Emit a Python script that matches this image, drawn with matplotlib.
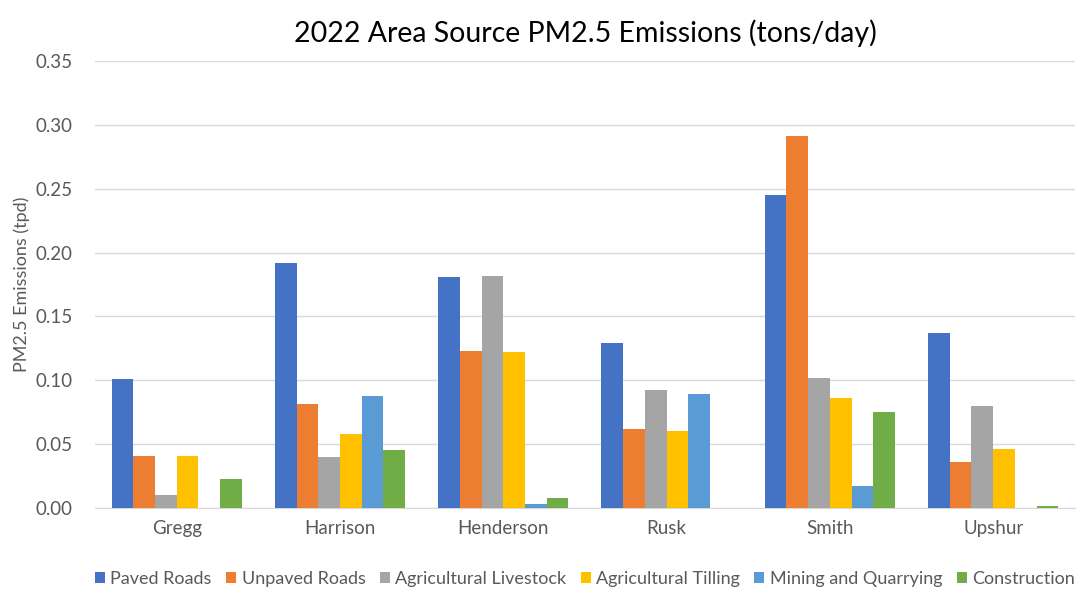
import numpy as np
from matplotlib import pyplot as plt

plt.rcParams['font.family'] = ['Lato', 'DejaVu Sans']

counties = ['Gregg', 'Harrison', 'Henderson', 'Rusk', 'Smith', 'Upshur']
paved_roads = [0.101, 0.192, 0.181, 0.129, 0.245, 0.137]
unpaved_roads = [0.041, 0.081, 0.123, 0.062, 0.291, 0.036]
ag_livestock = [0.010, 0.040, 0.182, 0.092, 0.102, 0.080]
ag_tilling = [0.041, 0.058, 0.122, 0.060, 0.086, 0.046]
mining = [0.0, 0.088, 0.003, 0.089, 0.017, 0.0]
construction = [0.023, 0.045, 0.008, 0.0, 0.075, 0.0015]

series = [
    ('Paved Roads', paved_roads, '#4472C4'),
    ('Unpaved Roads', unpaved_roads, '#ED7D31'),
    ('Agricultural Livestock', ag_livestock, '#A5A5A5'),
    ('Agricultural Tilling', ag_tilling, '#FFC000'),
    ('Mining and Quarrying', mining, '#5B9BD5'),
    ('Construction', construction, '#70AD47'),
]

fig = plt.figure(figsize=(10.85, 5.92), dpi=100)
ax = fig.add_axes([0.0876, 0.142, 0.903, 0.755])

x = np.arange(len(counties))
w = 0.133
for i, (name, vals, col) in enumerate(series):
    ax.bar(x + (i - 2.5) * w, vals, w, color=col, label=name, zorder=3)

ax.set_xlim(-0.5, len(counties) - 0.5)
ax.set_ylim(0, 0.35)
yt = np.arange(0, 0.351, 0.05)
ax.set_yticks(yt)
ax.set_yticklabels([f'{v:.2f}' for v in yt])
ax.set_xticks(x)
ax.set_xticklabels(counties)
ax.grid(axis='y', color='#D9D9D9', linewidth=1, zorder=0)
for s in ['top', 'right', 'left']:
    ax.spines[s].set_visible(False)
ax.spines['bottom'].set_color('#D9D9D9')
ax.tick_params(axis='y', length=0, labelsize=13.5, colors='#595959', pad=16)
ax.tick_params(axis='x', length=0, labelsize=13.5, colors='#595959', pad=9)
ax.set_ylabel('PM2.5 Emissions (tpd)', fontsize=13, color='#595959', labelpad=4)
ax.set_title('2022 Area Source PM2.5 Emissions (tons/day)', fontsize=20.5, color='#000000', pad=14)

leg = ax.legend(loc='upper center', bbox_to_anchor=(0.5, -0.105), ncol=6, frameon=False,
                fontsize=13, handlelength=0.55, handleheight=0.55, handletextpad=0.3,
                columnspacing=0.8)
for t in leg.get_texts():
    t.set_color('#595959')

fig.savefig('out.png', dpi=100)
